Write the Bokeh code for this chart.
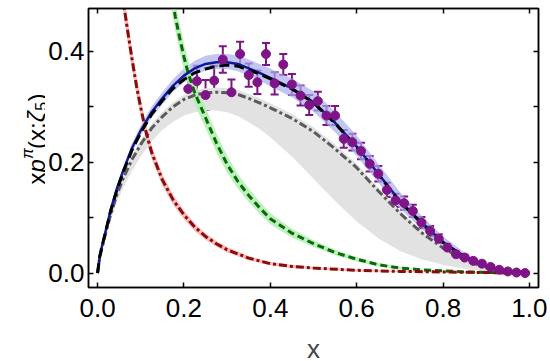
import numpy as np
from bokeh.plotting import figure
from bokeh.layouts import row
from bokeh.models import (ColumnDataSource, FixedTicker, LinearAxis, PrintfTickFormatter,
                          Whisker, TeeHead, Range1d, Label)
from bokeh.embed import file_html
from bokeh.resources import INLINE

# ---------------- data ----------------
pts_x = [0.21, 0.23, 0.25, 0.27, 0.29, 0.31, 0.33, 0.35, 0.37, 0.39,
         0.41, 0.43, 0.45, 0.47, 0.49, 0.51, 0.53, 0.55, 0.57, 0.59,
         0.61, 0.63, 0.65, 0.67, 0.69, 0.71, 0.73, 0.75, 0.77, 0.79,
         0.81, 0.83, 0.85, 0.87, 0.89, 0.91, 0.93, 0.95, 0.97, 0.99]
pts_y = [0.332, 0.346, 0.321, 0.347, 0.385, 0.326, 0.395, 0.357, 0.344, 0.395,
         0.342, 0.376, 0.340, 0.320, 0.303, 0.310, 0.284, 0.284, 0.242, 0.236,
         0.220, 0.197, 0.179, 0.150, 0.131, 0.126, 0.112, 0.091, 0.076, 0.062,
         0.046, 0.034, 0.028, 0.022, 0.017, 0.011, 0.006, 0.003, 0.001, 0.000]
pts_err = [0.030, 0.028, 0.027, 0.027, 0.024, 0.023, 0.022, 0.021, 0.021, 0.020,
           0.020, 0.019, 0.019, 0.018, 0.018, 0.017, 0.017, 0.017, 0.016, 0.015,
           0.015, 0.014, 0.014, 0.013, 0.012, 0.012, 0.011, 0.010, 0.009, 0.008,
           0.007, 0.006, 0.005, 0.004, 0.004, 0.003, 0.002, 0.002, 0.001, 0.001]

curve_x = [0, 0.005, 0.01, 0.02, 0.03, 0.045, 0.06, 0.08, 0.1, 0.125, 0.15, 0.175,
           0.2, 0.225, 0.25, 0.275, 0.3, 0.325, 0.35, 0.375, 0.4, 0.45, 0.5, 0.55,
           0.6, 0.65, 0.7, 0.75, 0.8, 0.85, 0.9, 0.95, 1.0]
blue_y = [0, 0.030, 0.048, 0.080, 0.113, 0.153, 0.186, 0.226, 0.257, 0.290, 0.315, 0.338,
          0.356, 0.369, 0.377, 0.380, 0.380, 0.377, 0.369, 0.361, 0.352, 0.333, 0.308, 0.271,
          0.228, 0.179, 0.130, 0.091, 0.056, 0.030, 0.011, 0.003, 0]
blue_up = [0, 0.002, 0.003, 0.004, 0.005, 0.006, 0.007, 0.008, 0.009, 0.010, 0.011, 0.012,
           0.013, 0.014, 0.015, 0.015, 0.015, 0.015, 0.016, 0.016, 0.017, 0.018, 0.020, 0.020,
           0.020, 0.018, 0.016, 0.013, 0.010, 0.007, 0.004, 0.002, 0]
blue_dn = [0, 0.002, 0.003, 0.004, 0.005, 0.006, 0.007, 0.008, 0.009, 0.010, 0.011, 0.011,
           0.012, 0.012, 0.012, 0.012, 0.012, 0.013, 0.013, 0.014, 0.015, 0.016, 0.017, 0.017,
           0.017, 0.016, 0.014, 0.011, 0.009, 0.006, 0.003, 0.001, 0]
black_y = [0, 0.030, 0.047, 0.079, 0.111, 0.150, 0.183, 0.222, 0.253, 0.286, 0.311, 0.333,
           0.349, 0.361, 0.368, 0.373, 0.375, 0.373, 0.366, 0.359, 0.350, 0.332, 0.307, 0.270,
           0.227, 0.178, 0.129, 0.090, 0.055, 0.029, 0.011, 0.003, 0]
gray_y = [0, 0.028, 0.045, 0.076, 0.105, 0.142, 0.172, 0.205, 0.232, 0.261, 0.282, 0.300,
          0.313, 0.321, 0.325, 0.326, 0.325, 0.322, 0.315, 0.307, 0.298, 0.279, 0.255, 0.224,
          0.190, 0.148, 0.108, 0.073, 0.045, 0.024, 0.009, 0.002, 0]
gray_hi = [0, 0.030, 0.048, 0.080, 0.110, 0.148, 0.179, 0.212, 0.240, 0.269, 0.290, 0.308,
           0.321, 0.329, 0.333, 0.334, 0.333, 0.330, 0.323, 0.315, 0.306, 0.287, 0.263, 0.232,
           0.197, 0.154, 0.113, 0.077, 0.048, 0.026, 0.010, 0.002, 0]
gray_lo = [0, 0.025, 0.040, 0.068, 0.094, 0.128, 0.155, 0.185, 0.210, 0.237, 0.258, 0.273,
           0.284, 0.290, 0.293, 0.293, 0.290, 0.283, 0.272, 0.260, 0.245, 0.210, 0.170, 0.130,
           0.093, 0.063, 0.040, 0.025, 0.015, 0.008, 0.003, 0.001, 0]

green_x = [0.17, 0.18, 0.19, 0.2, 0.21, 0.225, 0.25, 0.275, 0.3, 0.325, 0.35, 0.375, 0.4,
           0.45, 0.5, 0.55, 0.6, 0.65, 0.7, 0.75, 0.8, 0.85, 0.9, 0.95, 1.0]
green_y = [0.510, 0.462, 0.425, 0.390, 0.360, 0.325, 0.280, 0.235, 0.196, 0.165, 0.140, 0.118,
           0.098, 0.072, 0.053, 0.037, 0.025, 0.015, 0.009, 0.006, 0.004, 0.002, 0.001, 0.0005, 0]
green_d = [0.025, 0.025, 0.025, 0.024, 0.023, 0.021, 0.019, 0.017, 0.015, 0.013, 0.012, 0.011,
           0.010, 0.008, 0.006, 0.005, 0.004, 0.003, 0.002, 0.001, 0.001, 0.001, 0.0005, 0, 0]

red_x = [0.055, 0.062, 0.07, 0.08, 0.09, 0.1, 0.112, 0.125, 0.15, 0.175, 0.2, 0.225, 0.25,
         0.275, 0.3, 0.35, 0.4, 0.45, 0.5, 0.6, 0.7, 0.8, 0.9, 1.0]
red_y = [0.530, 0.477, 0.435, 0.385, 0.338, 0.298, 0.255, 0.218, 0.168, 0.132, 0.105, 0.083,
         0.066, 0.053, 0.042, 0.027, 0.017, 0.012, 0.009, 0.005, 0.003, 0.002, 0.001, 0]
red_d = [0.022, 0.021, 0.020, 0.018, 0.016, 0.015, 0.013, 0.012, 0.010, 0.009, 0.008, 0.007,
         0.006, 0.005, 0.005, 0.004, 0.003, 0.003, 0.002, 0.002, 0.001, 0.001, 0.001, 0]

x_ticks = [0.0, 0.2, 0.4, 0.6, 0.8, 1.0]
y_ticks = [0.0, 0.2, 0.4]
y_minor = [0.1, 0.3]
x_title = "x"
# y title pieces: text, font size, style, baseline shift (px)
y_title = [("x", "24px", "normal", 0), ("p", "24px", "italic", 0), ("\u03c0", "16px", "italic", -9),
           ("(x;", "24px", "normal", 0), ("\u03b6", "24px", "italic", 0), ("5", "16px", "normal", 4),
           (")", "24px", "normal", 0)]

# ---------------- build ----------------
FONT = "Liberation Sans"
FS = "26px"
TOP, FH, BOT = 8, 279, 74
H = TOP + FH + BOT
LW = 45

p = figure(frame_width=450, frame_height=FH, x_range=(-0.021, 1.021), y_range=(-0.026, 0.477),
           output_backend="svg", toolbar_location=None,
           min_border_left=86 - LW, min_border_right=12, min_border_top=TOP, min_border_bottom=BOT)
p.xgrid.visible = False
p.ygrid.visible = False
p.outline_line_color = "black"
p.outline_line_width = 1.5
p.background_fill_color = "white"
p.border_fill_color = "white"

by = np.array(blue_y)
gy = np.array(green_y); gd = np.array(green_d)
ry = np.array(red_y); rd = np.array(red_d)

# bands
p.varea(x=curve_x, y1=gray_lo, y2=gray_hi, fill_color="#e2e2e2", fill_alpha=1.0)
p.varea(x=curve_x, y1=list(by - np.array(blue_dn)), y2=list(by + np.array(blue_up)),
        fill_color="#a9aeee", fill_alpha=0.7)
p.varea(x=green_x, y1=list(gy - gd), y2=list(gy + gd), fill_color="#b5f0b5", fill_alpha=0.9)
p.varea(x=red_x, y1=list(ry - rd), y2=list(ry + rd), fill_color="#f6b5b5", fill_alpha=0.9)

# lines
p.line(curve_x, gray_y, line_color="#5a5a5a", line_width=3, line_dash="8 3 3 3")
p.line(green_x, green_y, line_color="#0a6a0a", line_width=3, line_dash="7 4")
p.line(red_x, red_y, line_color="#8b0a0a", line_width=3, line_dash="8 3 3 3")
p.line(curve_x, blue_y, line_color="#0d1a9e", line_width=2.5)
p.line(curve_x, black_y, line_color="black", line_width=3, line_dash="10 5")

# data points with error bars
src = ColumnDataSource(dict(x=pts_x, y=pts_y,
                            lo=[a - b for a, b in zip(pts_y, pts_err)],
                            hi=[a + b for a, b in zip(pts_y, pts_err)]))
PURPLE = "#7e1488"
wh = Whisker(source=src, base="x", lower="lo", upper="hi", dimension="height",
             line_color=PURPLE, line_width=2,
             upper_head=TeeHead(size=8, line_color=PURPLE, line_width=2),
             lower_head=TeeHead(size=8, line_color=PURPLE, line_width=2))
p.add_layout(wh)
p.scatter("x", "y", source=src, size=9, fill_color=PURPLE, line_color=PURPLE)

# axes
def style_axis(ax, labels=True):
    ax.axis_line_color = "black"
    ax.axis_line_width = 1.5
    ax.major_tick_in = 5
    ax.major_tick_out = 0
    ax.minor_tick_in = 5
    ax.minor_tick_out = 0
    ax.major_tick_line_width = 1.5
    ax.minor_tick_line_width = 1.5
    ax.major_label_text_font = FONT
    if labels:
        ax.major_label_text_font_size = FS
        ax.major_label_text_color = "black"
    else:
        ax.major_label_text_font_size = "1px"
        ax.major_label_text_color = None
        ax.major_label_standoff = 0

xb = p.xaxis[0]
xb.ticker = FixedTicker(ticks=x_ticks, minor_ticks=[])
xb.formatter = PrintfTickFormatter(format="%.1f")
xb.major_label_standoff = 11
xb.axis_label = x_title
xb.axis_label_text_font = FONT
xb.axis_label_text_font_size = FS
xb.axis_label_text_font_style = "normal"
xb.axis_label_standoff = 14
style_axis(xb)

yl = p.yaxis[0]
yl.ticker = FixedTicker(ticks=y_ticks, minor_ticks=y_minor)
yl.formatter = PrintfTickFormatter(format="%.1f")
yl.major_label_standoff = 4
style_axis(yl)

xt = LinearAxis(ticker=FixedTicker(ticks=x_ticks, minor_ticks=[]))
style_axis(xt, labels=False)
p.add_layout(xt, "above")
yr = LinearAxis(ticker=FixedTicker(ticks=y_ticks, minor_ticks=y_minor))
style_axis(yr, labels=False)
p.add_layout(yr, "right")

# ---- narrow left panel holding the composed y-axis title ----
# its frame is aligned with the main frame; coordinates are window pixels (y measured from bottom)
lab = figure(frame_width=LW, frame_height=FH, x_range=Range1d(0, LW), y_range=Range1d(H - TOP - FH, H - TOP),
             output_backend="svg", toolbar_location=None,
             min_border_left=0, min_border_right=0, min_border_top=TOP, min_border_bottom=BOT,
             x_axis_type=None, y_axis_type=None)
lab.outline_line_color = None
lab.background_fill_color = "white"
lab.border_fill_color = "white"
lab.xgrid.visible = False
lab.ygrid.visible = False

base_x = 36          # baseline position (px from left)
start_y = H - 184    # where the title begins (px from bottom)
advances = [12.0, 13.5, 10.0, 26.7, 11.6, 9.2, 8.0]
pos = start_y
for (txt, fs, st, shift), adv in zip(y_title, advances):
    lab.add_layout(Label(x=base_x + shift, y=pos, text=txt, angle=np.pi / 2,
                         text_font=FONT, text_font_size=fs, text_font_style=st,
                         text_align="left", text_baseline="alphabetic", text_color="black"))
    pos += adv

layout = row(lab, p)
open("out.html", "w").write(file_html(layout, INLINE))
